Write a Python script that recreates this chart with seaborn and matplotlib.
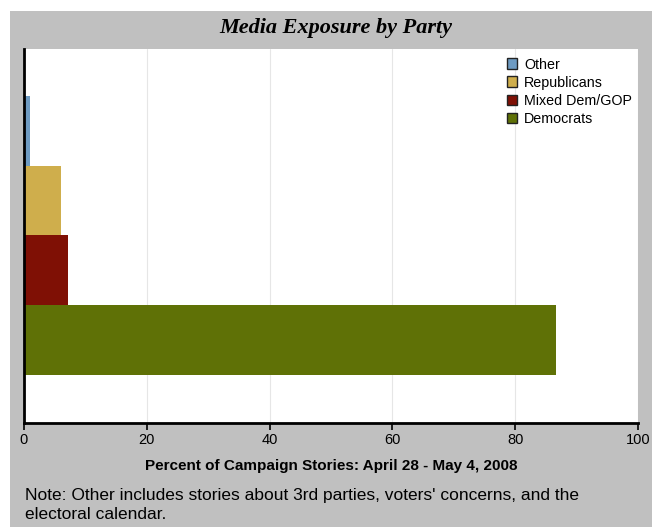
import matplotlib
matplotlib.use("Agg")
import matplotlib.pyplot as plt
from matplotlib.patches import Rectangle
import seaborn as sns
import pandas as pd

parties = ["Other", "Republicans", "Mixed Dem/GOP", "Democrats"]
values = [1.0, 6.0, 7.2, 86.7]
colors = ["#6E9BC2", "#CFAE4C", "#7F1005", "#5F7106"]
xticks = [0, 20, 40, 60, 80, 100]
title = "Media Exposure by Party"
xlabel = "Percent of Campaign Stories: April 28 - May 4, 2008"
note = "Note: Other includes stories about 3rd parties, voters' concerns, and the\nelectoral calendar."

df = pd.DataFrame({"party": parties, "value": values})

sns.set_style("white")
plt.rcParams["font.family"] = ["Liberation Sans", "DejaVu Sans"]
plt.rcParams["text.color"] = "black"
plt.rcParams["axes.labelcolor"] = "black"
plt.rcParams["xtick.color"] = "black"

W, H = 652, 527
fig = plt.figure(figsize=(W / 100, H / 100), dpi=100, facecolor="white")
bg = Rectangle((10 / W, 0), 1 - 10 / W, 1 - 11 / H, transform=fig.transFigure,
               facecolor="#C0C0C0", edgecolor="none", zorder=-10)
fig.add_artist(bg)

ax = fig.add_axes([24 / W, 104 / H, 614 / W, 374 / H])
ax.set_facecolor("white")
sns.barplot(data=df, y="party", x="value", hue="party", order=parties, hue_order=parties,
            palette=colors, dodge=False, width=1.0, orient="h", ax=ax, legend=True,
            saturation=1, edgecolor="none")

ax.set_xlim(0, 100)
ax.set_ylim(3 + 1.19, -1.17)
ax.set_xticks(xticks)
ax.set_xticklabels([str(t) for t in xticks], fontsize=10.5, color="black")
ax.set_yticks([])
ax.set_ylabel("")
ax.set_xlabel(xlabel, fontsize=11, fontweight="bold", labelpad=9, color="black")
ax.xaxis.grid(True, color="#E6E6E6", linewidth=0.8)
ax.set_axisbelow(True)
for s in ["top", "right"]:
    ax.spines[s].set_visible(False)
for s in ["left", "bottom"]:
    ax.spines[s].set_color("black")
    ax.spines[s].set_linewidth(2)
ax.tick_params(axis="x", direction="out", length=5, width=1.2, color="black", pad=2, bottom=True)

leg = ax.legend(loc="upper left", bbox_to_anchor=(477 / 614, 1 - 3 / 374), frameon=False,
                fontsize=10.3, handlelength=0.75, handleheight=0.75, handletextpad=0.45,
                labelspacing=0.28, borderaxespad=0)
for h in leg.legend_handles:
    h.set_edgecolor("#222222")
    h.set_linewidth(1.0)
for t in leg.get_texts():
    t.set_color("black")

fig.text(336 / W, 1 - 28 / H, title, ha="center", va="center", fontsize=16,
         fontweight="bold", fontstyle="italic", family="Liberation Serif", color="black")
fig.text(25 / W, 1 - 505 / H, note, ha="left", va="center", fontsize=12.5, linespacing=1.3,
         color="black")

fig.savefig("out.png", dpi=100, facecolor="white")
